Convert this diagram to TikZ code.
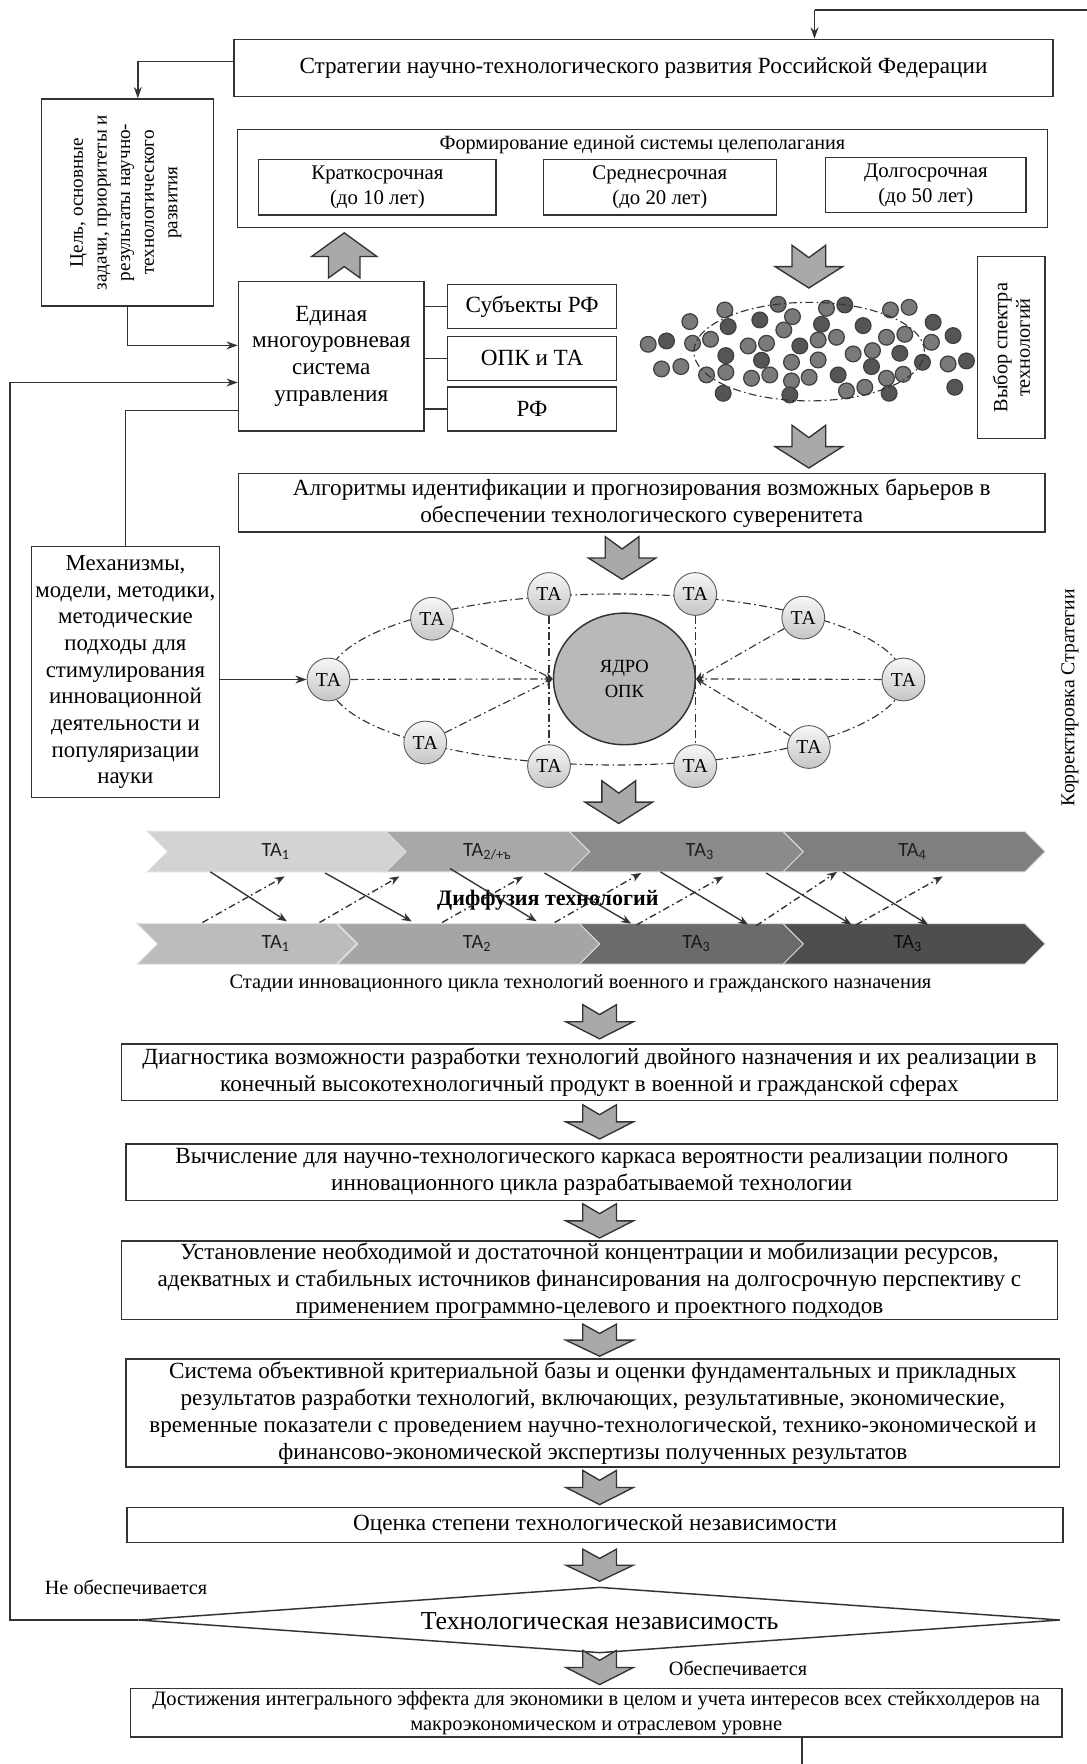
\documentclass[tikz,border=0pt]{standalone}
\usepackage{fontspec}
\setmainfont{Liberation Serif}
\newfontfamily\calfont{Carlito}
\usetikzlibrary{arrows.meta,shapes.geometric,calc}
\definecolor{ln}{HTML}{333333}
\definecolor{fatc}{HTML}{A9A9A9}
\definecolor{dotL}{HTML}{7A7A7A}
\definecolor{dotM}{HTML}{6A6A6A}
\definecolor{dotD}{HTML}{555555}
\definecolor{chA}{HTML}{D3D3D3}
\definecolor{chB}{HTML}{A8A8A8}
\definecolor{chC}{HTML}{8B8B8B}
\definecolor{chD}{HTML}{7F7F7F}
\definecolor{chE}{HTML}{BCBCBC}
\definecolor{chF}{HTML}{A5A5A5}
\definecolor{chG}{HTML}{6B6B6B}
\definecolor{chH}{HTML}{4E4E4E}
\newcommand\myfs[2]{\fontsize{#1}{#2}\selectfont}
\tikzset{
  bx/.style={draw=ln, line width=1.3pt, fill=white, inner sep=0pt, align=center, font=\myfs{20.6}{24}},
  arr/.style={line width=1.3pt, draw=ln, -{Stealth[length=10pt,width=7pt]}},
  lnn/.style={line width=1.3pt, draw=ln},
  dd/.style={dash pattern=on 7pt off 3pt on 1.5pt off 3pt, line width=1pt, draw=ln},
  ta/.style={circle, minimum size=38pt, inner sep=0pt, draw=gray!70!black, line width=0.8pt, top color=gray!6, bottom color=gray!45, font=\myfs{17.5}{17.5}},
  fat/.style={fill=fatc, draw=ln, line width=1.2pt, line join=miter},
  fatdn/.pic={\draw[fat] (-15,0) -- (0,11) -- (15,0) -- (15,19) -- (30,19) -- (0,38) -- (-30,19) -- (-15,19) -- cycle;},
  fatup/.pic={\draw[fat] (0,0) -- (29,21) -- (14,21) -- (14,40) -- (0,30) -- (-14,40) -- (-14,21) -- (-29,21) -- cycle;},
  chl/.style={font=\calfont\myfs{18}{18}, text=black!88, inner sep=0pt},
  sarr/.style={line width=1.2pt, draw=ln, -{Stealth[length=9pt,width=7pt]}},
  darr/.style={dash pattern=on 6pt off 3pt on 1.5pt off 3pt, line width=1.2pt, draw=ln, -{Stealth[length=9pt,width=7pt]}},
}
\begin{document}
\begin{tikzpicture}[x=1pt,y=-1pt]
\useasboundingbox (0,0) rectangle (966,1568);
\fill[white] (0,0) rectangle (966,1568);

% --- top ---
\node[bx, minimum width=728pt, minimum height=51pt] (strat) at (572,60.5) {Стратегии научно-технологического развития Российской Федерации};
\coordinate (topR) at (966,9);
\coordinate (topC) at (724,9);
\draw[lnn] (topR) -- (topC);
\draw[arr] (topC) -- (topC |- strat.north);

\node[bx, minimum width=153pt, minimum height=184pt] (goal) at (113.5,180) {};
\node[rotate=90, align=center, font=\myfs{17}{21}] (goalt) at (112,180) {Цель, основные\\задачи, приоритеты и\\результаты научно-\\технологического\\развития};
\draw[arr] ([yshift=6pt]strat.west) -| ([xshift=9pt]goal.north);

\node[bx, minimum width=720pt, minimum height=87pt] (form) at (571,158.5) {};
\node[font=\myfs{18}{18}] (formt) at (571,129) {Формирование единой системы целеполагания};
\node[bx, font=\myfs{18.5}{22}, minimum width=211pt, minimum height=49pt] (krat) at (335.5,166.5) {Краткосрочная\\(до 10 лет)};
\node[bx, font=\myfs{18.5}{22}, minimum width=207pt, minimum height=49pt] (sred) at (586.5,166.5) {Среднесрочная\\(до 20 лет)};
\node[bx, font=\myfs{18.5}{22}, minimum width=178pt, minimum height=49pt] (dolg) at (823,164.5) {Долгосрочная\\(до 50 лет)};

\pic at (306,207) {fatup};
\pic at (719,218) {fatdn};

% --- management ---
\node[bx, font=\myfs{20.6}{23.7}, minimum width=165pt, minimum height=133pt] (edin) at (294.5,316.5) {Единая\\многоуровневая\\система\\управления};
\node[bx, minimum width=150pt, minimum height=39pt] (subj) at (473,272.5) {Субъекты РФ};
\node[bx, minimum width=150pt, minimum height=39pt] (opk) at (473,318.5) {ОПК и ТА};
\node[bx, minimum width=150pt, minimum height=39pt] (rf) at (473,363.5) {РФ};
\draw[lnn] (edin.east |- subj) -- (subj.west);
\draw[lnn] (edin.east |- opk) -- (opk.west);
\draw[lnn] (edin.east |- rf) -- (rf.west);
\draw[arr] (goal.south) |- ([yshift=9.5pt]edin.west);

% --- dots ---
\begin{scope}[shift={(551,253.3)}, x=0.2962pt, y=-0.2962pt]
\foreach \zx/\zy/\c in {315/75/L, 475/58/M, 620/70/L, 675/60/D, 812/75/L, 868/67/L, 210/110/L, 325/125/D, 420/105/D, 518/95/L, 605/118/D, 730/122/D, 940/112/D, 492/135/L, 855/148/L, 800/157/L, 85/178/L, 140/168/D, 218/175/L, 272/163/L, 385/183/L, 440/175/L, 540/183/D, 595/165/L, 650/157/L, 935/172/L, 1000/152/D, 318/212/D, 425/226/D, 515/232/L, 595/225/L, 700/207/L, 758/197/L, 840/205/D, 908/232/D, 985/237/L, 1040/228/D, 125/252/L, 183/245/L, 260/270/L, 318/262/L, 395/280/L, 450/270/L, 515/288/L, 568/277/L, 655/270/D, 755/245/D, 800/280/L, 850/268/L, 680/318/L, 735/307/L, 808/325/D, 310/325/D, 510/330/D, 1005/307/D}
  \filldraw[fill=dot\c, draw=black!75, line width=1.1pt] (\zx,\zy) circle[radius=7pt];
\draw[dd] (568,200) ellipse[x radius=102.5pt, y radius=43.8pt];
\end{scope}

\node[bx, minimum width=60pt, minimum height=162pt] (vyb) at (899,309) {};
\node[rotate=90, align=center, font=\myfs{18}{20}] (vybt) at (899,309) {Выбор спектра\\технологий};

\pic at (719,378) {fatdn};
\node[bx, minimum width=717pt, minimum height=52pt] (alg) at (570.5,447) {Алгоритмы идентификации и прогнозирования возможных барьеров в\\обеспечении технологического суверенитета};
\pic at (553,477) {fatdn};

% --- mechanisms ---
\node[bx, font=\myfs{20.3}{23.7}, minimum width=167pt, minimum height=223pt] (mech) at (111.5,597.5) {Механизмы,\\модели, методики,\\методические\\подходы для\\стимулирования\\инновационной\\деятельности и\\популяризации\\науки};
\draw[lnn] (mech.north) |- ([yshift=-48.5pt]edin.west);

% --- feedback left ---
\coordinate (dL) at (123,1440);
\coordinate (dT) at (533,1411);
\coordinate (dR) at (942,1440);
\coordinate (dB) at (533,1469);
\coordinate (fbL) at (9,340);
\draw[arr] (dL) -| (fbL) -- (fbL -| edin.west);

% --- TA network ---
\draw[dd] (547.5,604) ellipse[x radius=255.5pt, y radius=76pt];
\node[ellipse, minimum width=126pt, minimum height=117pt, inner sep=0pt, fill=gray!55, draw=ln, line width=1.3pt, align=center, font=\myfs{16.5}{22}] (core) at (555,603.5) {ЯДРО\\ОПК};
\node[ta] (tal) at (292,604) {ТА};
\node[ta] (taul) at (384,550) {ТА};
\node[ta] (tatl) at (488,528) {ТА};
\node[ta] (tatr) at (618,528) {ТА};
\node[ta] (taur) at (714,549) {ТА};
\node[ta] (tar) at (803,604) {ТА};
\node[ta] (tall) at (378,660) {ТА};
\node[ta] (tabl) at (488,681) {ТА};
\node[ta] (tabr) at (618,681) {ТА};
\node[ta] (talr) at (719,664) {ТА};
\draw[dd, -{Stealth[length=7pt,width=6pt]}] (tal) -- (core.west);
\draw[dd, -{Stealth[length=7pt,width=6pt]}] (taul) -- (core.west);
\draw[dd, -{Stealth[length=7pt,width=6pt]}] (tall) -- (core.west);
\draw[dd, -{Stealth[length=7pt,width=6pt]}] (tar) -- (core.east);
\draw[dd, -{Stealth[length=7pt,width=6pt]}] (taur) -- (core.east);
\draw[dd, -{Stealth[length=7pt,width=6pt]}] (talr) -- (core.east);
\draw[dd] (tatl) -- (tabl);
\draw[dd] (tatr) -- (tabr);
\draw[arr] (tal.west -| mech.east) -- (tal.west);

\pic at (550,694) {fatdn};

% --- chevrons ---
\foreach \a/\b/\ya/\yb/\col in {695/929/739/775/chD, 505/714/739/775/chC, 340/524/739/775/chB, 131/361/739/775/chA, 695/929/821/857/chH, 515/714/821/857/chG, 300/533/821/857/chF, 122/317/821/857/chE}
  \filldraw[fill=\col, draw=white!75!gray, line width=0.8pt] (\a,\ya) -- ({\b-18},\ya) -- (\b,{(\ya+\yb)/2}) -- ({\b-18},\yb) -- (\a,\yb) -- ({\a+18},{(\ya+\yb)/2}) -- cycle;
\node[chl] (c1) at (245,757) {ТА\textsubscript{1}};
\node[chl] (c2) at (433,757) {ТА\textsubscript{2/+ъ}};
\node[chl] (c3) at (622,757) {ТА\textsubscript{3}};
\node[chl] (c4) at (811,757) {ТА\textsubscript{4}};
\node[chl] (c5) at (245,839) {ТА\textsubscript{1}};
\node[chl] (c6) at (424,839) {ТА\textsubscript{2}};
\node[chl, text=black!90] (c7) at (619,839) {ТА\textsubscript{3}};
\node[chl, text=black!95] (c8) at (807,839) {ТА\textsubscript{3}};

\node[font=\bfseries\myfs{19.6}{19.6}] (diff) at (487,800) {Диффузия технологий};
\foreach \i/\xa/\ya/\xb/\yb in {1/187/775/255/819, 2/289/776/366/819, 3/400/772/477/819, 4/484/776/561/821, 5/587/775/665/822, 6/681/776/757/822, 7/749/775/825/822}{
  \coordinate (sa\i) at (\xa,\ya); \coordinate (sb\i) at (\xb,\yb);
  \draw[sarr] (sa\i) -- (sb\i);}
\foreach \i/\xa/\ya/\xb/\yb in {1/180/820/253/779, 2/284/820/355/779, 3/393/820/465/779, 4/493/820/570/776, 5/566/822/643/779, 6/672/823/744/775, 7/761/822/838/779}{
  \coordinate (da\i) at (\xa,\ya); \coordinate (db\i) at (\xb,\yb);
  \draw[darr] (da\i) -- (db\i);}

\node[font=\myfs{18.2}{18.2}] (stad) at (516,874) {Стадии инновационного цикла технологий военного и гражданского назначения};

% --- lower chain ---
\pic[yscale=0.8] at (533,893) {fatdn};
\node[bx, minimum width=832pt, minimum height=50pt] (diag) at (524,953) {Диагностика возможности разработки технологий двойного назначения и их реализации в\\конечный высокотехнологичный продукт в военной и гражданской сферах};
\pic[yscale=0.8] at (533,982) {fatdn};
\node[bx, minimum width=828pt, minimum height=50pt] (vych) at (526,1042) {Вычисление для научно-технологического каркаса вероятности реализации полного\\инновационного цикла разрабатываемой технологии};
\pic[yscale=0.8] at (533,1070) {fatdn};
\node[bx, minimum width=832pt, minimum height=70pt] (ust) at (524,1138) {Установление необходимой и достаточной концентрации и мобилизации ресурсов,\\адекватных и стабильных источников финансирования на долгосрочную перспективу с\\применением программно-целевого и проектного подходов};
\pic[yscale=0.75] at (533,1177) {fatdn};
\node[bx, minimum width=830pt, minimum height=96pt] (sys) at (527,1256) {Система объективной критериальной базы и оценки фундаментальных и прикладных\\результатов разработки технологий, включающих, результативные, экономические,\\временные показатели с проведением научно-технологической, технико-экономической и\\финансово-экономической экспертизы полученных результатов};
\pic[yscale=0.8] at (533,1307) {fatdn};
\node[bx, minimum width=832pt, minimum height=31pt] (ocen) at (529,1355.5) {Оценка степени технологической независимости};
\pic[yscale=0.75] at (533,1377) {fatdn};

\draw[line width=1.3pt, draw=ln, fill=white] (dL) -- (dT) -- (dR) -- (dB) -- cycle;
\node[font=\myfs{23}{23}] (diamt) at (533,1441) {Технологическая независимость};
\node[font=\myfs{18}{18}] (neob) at (112,1411) {Не обеспечивается};
\pic[yscale=0.8] at (533,1467) {fatdn};
\node[font=\myfs{18}{18}] (obesp) at (656,1483) {Обеспечивается};
\node[bx, font=\myfs{18.2}{22}, minimum width=828pt, minimum height=43pt] (fin) at (530,1522.5) {Достижения интегрального эффекта для экономики в целом и учета интересов всех стейкхолдеров на\\макроэкономическом и отраслевом уровне};
\coordinate (botC) at (713,1568);
\draw[lnn] (fin.south -| botC) -- (botC);

\node[rotate=90, font=\myfs{17.5}{17.5}] (korr) at (951,620) {Корректировка Стратегии};
\end{tikzpicture}
\end{document}
